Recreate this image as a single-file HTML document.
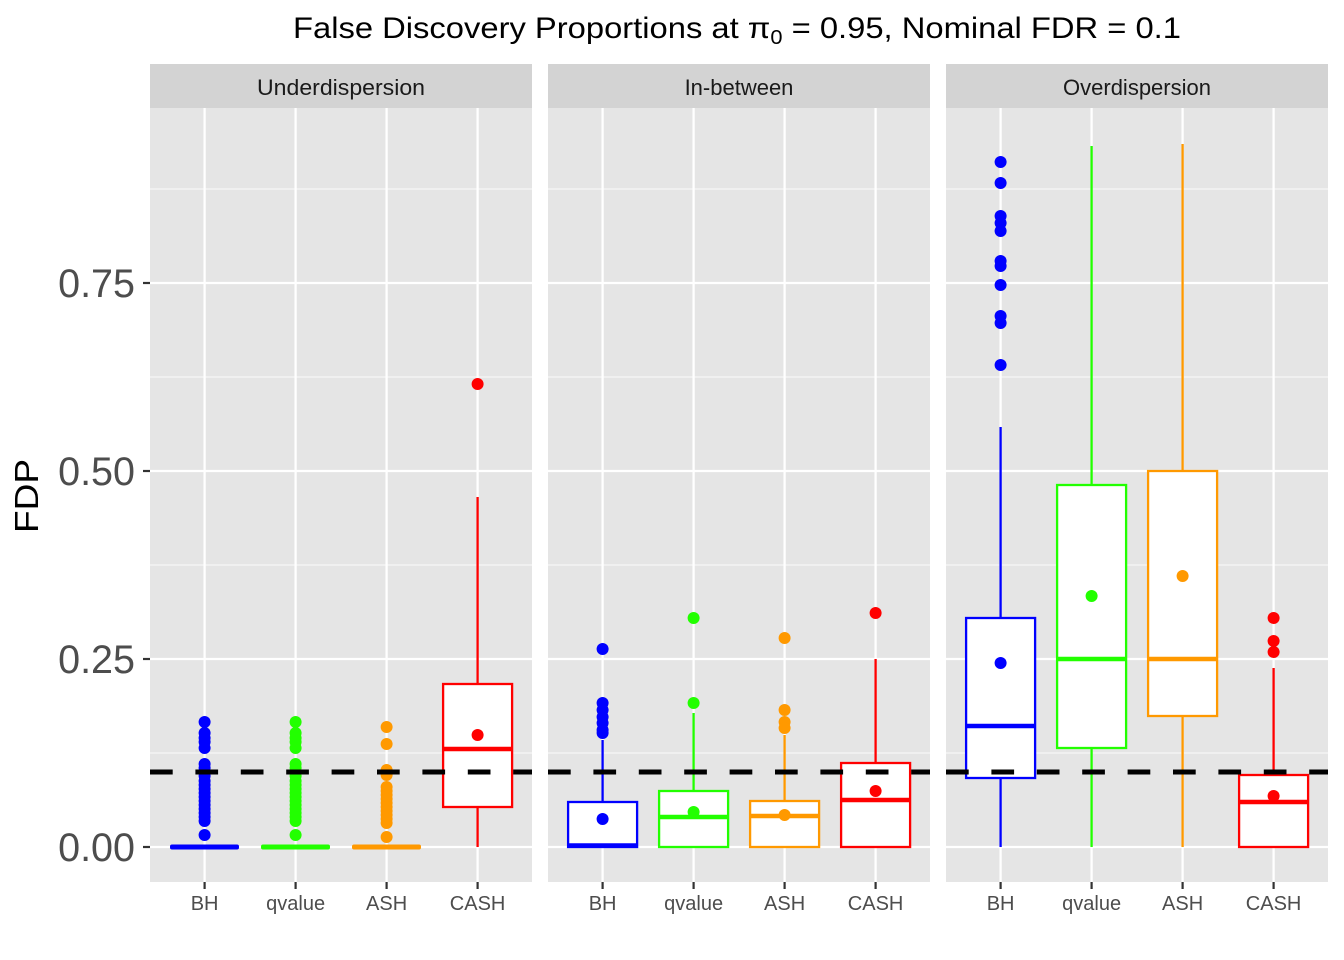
<!DOCTYPE html>
<html>
<head>
<meta charset="utf-8">
<style>
  html,body{margin:0;padding:0;background:#fff;}
  svg{display:block;}
  text{font-family:"Liberation Sans", Arial, sans-serif;}
</style>
</head>
<body>
<svg width="1344" height="960" viewBox="0 0 1344 960" xmlns="http://www.w3.org/2000/svg">
  <rect x="0" y="0" width="1344" height="960" fill="#ffffff"/>

  <!-- Title -->
  <text x="293" y="38" font-size="30" fill="#000" textLength="888" lengthAdjust="spacingAndGlyphs">False Discovery Proportions at π<tspan font-size="20" dy="6">0</tspan><tspan dy="-6"> = 0.95, Nominal FDR = 0.1</tspan></text>

  <!-- Strips -->
  <rect x="150" y="64" width="382" height="44" fill="#D3D3D3"/>
  <rect x="548" y="64" width="382" height="44" fill="#D3D3D3"/>
  <rect x="946" y="64" width="382" height="44" fill="#D3D3D3"/>
  <text x="341" y="95" font-size="22" fill="#1A1A1A" text-anchor="middle" textLength="168" lengthAdjust="spacingAndGlyphs">Underdispersion</text>
  <text x="739" y="95" font-size="22" fill="#1A1A1A" text-anchor="middle">In-between</text>
  <text x="1137" y="95" font-size="22" fill="#1A1A1A" text-anchor="middle">Overdispersion</text>

  <!-- Panels background -->
  <rect x="150" y="108" width="382" height="774" fill="#E5E5E5"/>
  <rect x="548" y="108" width="382" height="774" fill="#E5E5E5"/>
  <rect x="946" y="108" width="382" height="774" fill="#E5E5E5"/>

  <!-- Grid lines -->
  <g stroke="#F7F7F7" stroke-width="1.2">
    <line x1="150" x2="532" y1="189" y2="189"/><line x1="150" x2="532" y1="377" y2="377"/><line x1="150" x2="532" y1="565" y2="565"/><line x1="150" x2="532" y1="753" y2="753"/>
    <line x1="548" x2="930" y1="189" y2="189"/><line x1="548" x2="930" y1="377" y2="377"/><line x1="548" x2="930" y1="565" y2="565"/><line x1="548" x2="930" y1="753" y2="753"/>
    <line x1="946" x2="1328" y1="189" y2="189"/><line x1="946" x2="1328" y1="377" y2="377"/><line x1="946" x2="1328" y1="565" y2="565"/><line x1="946" x2="1328" y1="753" y2="753"/>
  </g>
  <g stroke="#FFFFFF" stroke-width="2.3">
    <line x1="150" x2="532" y1="283" y2="283"/><line x1="150" x2="532" y1="471" y2="471"/><line x1="150" x2="532" y1="659" y2="659"/><line x1="150" x2="532" y1="847" y2="847"/>
    <line x1="548" x2="930" y1="283" y2="283"/><line x1="548" x2="930" y1="471" y2="471"/><line x1="548" x2="930" y1="659" y2="659"/><line x1="548" x2="930" y1="847" y2="847"/>
    <line x1="946" x2="1328" y1="283" y2="283"/><line x1="946" x2="1328" y1="471" y2="471"/><line x1="946" x2="1328" y1="659" y2="659"/><line x1="946" x2="1328" y1="847" y2="847"/>
    <line x1="204.6" x2="204.6" y1="108" y2="882"/><line x1="295.6" x2="295.6" y1="108" y2="882"/><line x1="386.6" x2="386.6" y1="108" y2="882"/><line x1="477.6" x2="477.6" y1="108" y2="882"/>
    <line x1="602.6" x2="602.6" y1="108" y2="882"/><line x1="693.6" x2="693.6" y1="108" y2="882"/><line x1="784.6" x2="784.6" y1="108" y2="882"/><line x1="875.6" x2="875.6" y1="108" y2="882"/>
    <line x1="1000.6" x2="1000.6" y1="108" y2="882"/><line x1="1091.6" x2="1091.6" y1="108" y2="882"/><line x1="1182.6" x2="1182.6" y1="108" y2="882"/><line x1="1273.6" x2="1273.6" y1="108" y2="882"/>
  </g>

  <!-- ===== Panel 1: Underdispersion ===== -->
  <!-- BH -->
  <g fill="#0000FF">
    <rect x="170" y="844.5" width="69" height="5" rx="2"/>
    <circle cx="204.6" cy="722" r="6"/><circle cx="204.6" cy="733" r="6"/><circle cx="204.6" cy="738" r="6"/><circle cx="204.6" cy="742" r="6"/><circle cx="204.6" cy="748" r="6"/>
    <circle cx="204.6" cy="764" r="6"/><circle cx="204.6" cy="768" r="6"/><circle cx="204.6" cy="772" r="6"/><circle cx="204.6" cy="776" r="6"/><circle cx="204.6" cy="781" r="6"/>
    <circle cx="204.6" cy="785" r="6"/><circle cx="204.6" cy="789" r="6"/><circle cx="204.6" cy="793" r="6"/><circle cx="204.6" cy="797" r="6"/><circle cx="204.6" cy="801" r="6"/>
    <circle cx="204.6" cy="805" r="6"/><circle cx="204.6" cy="809" r="6"/><circle cx="204.6" cy="813" r="6"/><circle cx="204.6" cy="817" r="6"/><circle cx="204.6" cy="821" r="6"/>
    <circle cx="204.6" cy="835" r="6"/>
  </g>
  <!-- qvalue -->
  <g fill="#22FF00">
    <rect x="261" y="844.5" width="69" height="5" rx="2"/>
    <circle cx="295.6" cy="722" r="6"/><circle cx="295.6" cy="733" r="6"/><circle cx="295.6" cy="738" r="6"/><circle cx="295.6" cy="742" r="6"/><circle cx="295.6" cy="748" r="6"/>
    <circle cx="295.6" cy="764" r="6"/><circle cx="295.6" cy="768" r="6"/><circle cx="295.6" cy="772" r="6"/><circle cx="295.6" cy="776" r="6"/><circle cx="295.6" cy="781" r="6"/>
    <circle cx="295.6" cy="785" r="6"/><circle cx="295.6" cy="789" r="6"/><circle cx="295.6" cy="793" r="6"/><circle cx="295.6" cy="797" r="6"/><circle cx="295.6" cy="801" r="6"/>
    <circle cx="295.6" cy="805" r="6"/><circle cx="295.6" cy="809" r="6"/><circle cx="295.6" cy="813" r="6"/><circle cx="295.6" cy="817" r="6"/><circle cx="295.6" cy="821" r="6"/>
    <circle cx="295.6" cy="835" r="6"/>
  </g>
  <!-- ASH -->
  <g fill="#FF9900">
    <rect x="352" y="844.5" width="69" height="5" rx="2"/>
    <circle cx="386.6" cy="727" r="6"/><circle cx="386.6" cy="744" r="6"/><circle cx="386.6" cy="770" r="6"/><circle cx="386.6" cy="775" r="6"/>
    <circle cx="386.6" cy="787" r="6"/><circle cx="386.6" cy="791" r="6"/><circle cx="386.6" cy="795" r="6"/><circle cx="386.6" cy="799" r="6"/><circle cx="386.6" cy="803" r="6"/>
    <circle cx="386.6" cy="807" r="6"/><circle cx="386.6" cy="811" r="6"/><circle cx="386.6" cy="815" r="6"/><circle cx="386.6" cy="819" r="6"/><circle cx="386.6" cy="823" r="6"/>
    <circle cx="386.6" cy="837" r="6"/>
  </g>
  <!-- CASH -->
  <g stroke="#FF0000" stroke-width="2.3">
    <line x1="477.6" x2="477.6" y1="497" y2="684"/>
    <line x1="477.6" x2="477.6" y1="807" y2="847"/>
    <rect x="443.1" y="684" width="69" height="123" fill="#FFFFFF"/>
    <line x1="443.1" x2="512.1" y1="749" y2="749" stroke-width="4.6"/>
  </g>
  <g fill="#FF0000">
    <circle cx="477.6" cy="384" r="6"/>
    <circle cx="477.6" cy="735" r="6"/>
  </g>

  <!-- ===== Panel 2: In-between ===== -->
  <!-- BH -->
  <g stroke="#0000FF" stroke-width="2.3">
    <line x1="602.6" x2="602.6" y1="740" y2="802"/>
    <rect x="568.1" y="802" width="69" height="45" fill="#FFFFFF"/>
    <line x1="568.1" x2="637.1" y1="845.5" y2="845.5" stroke-width="4.6"/>
  </g>
  <g fill="#0000FF">
    <circle cx="602.6" cy="649" r="6"/><circle cx="602.6" cy="703" r="6"/><circle cx="602.6" cy="710" r="6"/><circle cx="602.6" cy="717" r="6"/>
    <circle cx="602.6" cy="723" r="6"/><circle cx="602.6" cy="730" r="6"/><circle cx="602.6" cy="733" r="6"/>
    <circle cx="602.6" cy="819" r="6"/>
  </g>
  <!-- qvalue -->
  <g stroke="#22FF00" stroke-width="2.3">
    <line x1="693.6" x2="693.6" y1="713" y2="791"/>
    <rect x="659.1" y="791" width="69" height="56" fill="#FFFFFF"/>
    <line x1="659.1" x2="728.1" y1="817" y2="817" stroke-width="4.6"/>
  </g>
  <g fill="#22FF00">
    <circle cx="693.6" cy="618" r="6"/><circle cx="693.6" cy="703" r="6"/>
    <circle cx="693.6" cy="812" r="6"/>
  </g>
  <!-- ASH -->
  <g stroke="#FF9900" stroke-width="2.3">
    <line x1="784.6" x2="784.6" y1="735" y2="801"/>
    <rect x="750.1" y="801" width="69" height="46" fill="#FFFFFF"/>
    <line x1="750.1" x2="819.1" y1="816" y2="816" stroke-width="4.6"/>
  </g>
  <g fill="#FF9900">
    <circle cx="784.6" cy="638" r="6"/><circle cx="784.6" cy="710" r="6"/><circle cx="784.6" cy="722" r="6"/><circle cx="784.6" cy="728" r="6"/>
    <circle cx="784.6" cy="815" r="6"/>
  </g>
  <!-- CASH -->
  <g stroke="#FF0000" stroke-width="2.3">
    <line x1="875.6" x2="875.6" y1="659" y2="763"/>
    <rect x="841.1" y="763" width="69" height="84" fill="#FFFFFF"/>
    <line x1="841.1" x2="910.1" y1="800" y2="800" stroke-width="4.6"/>
  </g>
  <g fill="#FF0000">
    <circle cx="875.6" cy="613" r="6"/>
    <circle cx="875.6" cy="791" r="6"/>
  </g>

  <!-- ===== Panel 3: Overdispersion ===== -->
  <!-- BH -->
  <g stroke="#0000FF" stroke-width="2.3">
    <line x1="1000.6" x2="1000.6" y1="427" y2="618"/>
    <line x1="1000.6" x2="1000.6" y1="778" y2="847"/>
    <rect x="966.1" y="618" width="69" height="160" fill="#FFFFFF"/>
    <line x1="966.1" x2="1035.1" y1="726" y2="726" stroke-width="4.6"/>
  </g>
  <g fill="#0000FF">
    <circle cx="1000.6" cy="162" r="6"/><circle cx="1000.6" cy="183" r="6"/><circle cx="1000.6" cy="216" r="6"/><circle cx="1000.6" cy="223" r="6"/>
    <circle cx="1000.6" cy="231" r="6"/><circle cx="1000.6" cy="261" r="6"/><circle cx="1000.6" cy="266" r="6"/><circle cx="1000.6" cy="285" r="6"/>
    <circle cx="1000.6" cy="316" r="6"/><circle cx="1000.6" cy="323" r="6"/><circle cx="1000.6" cy="365" r="6"/>
    <circle cx="1000.6" cy="663" r="6"/>
  </g>
  <!-- qvalue -->
  <g stroke="#22FF00" stroke-width="2.3">
    <line x1="1091.6" x2="1091.6" y1="146" y2="485"/>
    <line x1="1091.6" x2="1091.6" y1="748" y2="847"/>
    <rect x="1057.1" y="485" width="69" height="263" fill="#FFFFFF"/>
    <line x1="1057.1" x2="1126.1" y1="659" y2="659" stroke-width="4.6"/>
  </g>
  <g fill="#22FF00">
    <circle cx="1091.6" cy="596" r="6"/>
  </g>
  <!-- ASH -->
  <g stroke="#FF9900" stroke-width="2.3">
    <line x1="1182.6" x2="1182.6" y1="144" y2="471"/>
    <line x1="1182.6" x2="1182.6" y1="716" y2="847"/>
    <rect x="1148.1" y="471" width="69" height="245" fill="#FFFFFF"/>
    <line x1="1148.1" x2="1217.1" y1="659" y2="659" stroke-width="4.6"/>
  </g>
  <g fill="#FF9900">
    <circle cx="1182.6" cy="576" r="6"/>
  </g>
  <!-- CASH -->
  <g stroke="#FF0000" stroke-width="2.3">
    <line x1="1273.6" x2="1273.6" y1="668" y2="775"/>
    <rect x="1239.1" y="775" width="69" height="72" fill="#FFFFFF"/>
    <line x1="1239.1" x2="1308.1" y1="802" y2="802" stroke-width="4.6"/>
  </g>
  <g fill="#FF0000">
    <circle cx="1273.6" cy="618" r="6"/><circle cx="1273.6" cy="641" r="6"/><circle cx="1273.6" cy="652" r="6"/>
    <circle cx="1273.6" cy="796" r="6"/>
  </g>

  <!-- Dashed reference line -->
  <g stroke="#000000" stroke-width="5" stroke-dasharray="22.7 22.7">
    <line x1="150" x2="532" y1="772" y2="772"/>
    <line x1="548" x2="930" y1="772" y2="772"/>
    <line x1="946" x2="1328" y1="772" y2="772"/>
  </g>

  <!-- Axis ticks -->
  <g stroke="#333333" stroke-width="2.2">
    <line x1="143" x2="150" y1="847" y2="847"/><line x1="143" x2="150" y1="659" y2="659"/><line x1="143" x2="150" y1="471" y2="471"/><line x1="143" x2="150" y1="283" y2="283"/>
    <line x1="204.6" x2="204.6" y1="882" y2="889"/><line x1="295.6" x2="295.6" y1="882" y2="889"/><line x1="386.6" x2="386.6" y1="882" y2="889"/><line x1="477.6" x2="477.6" y1="882" y2="889"/>
    <line x1="602.6" x2="602.6" y1="882" y2="889"/><line x1="693.6" x2="693.6" y1="882" y2="889"/><line x1="784.6" x2="784.6" y1="882" y2="889"/><line x1="875.6" x2="875.6" y1="882" y2="889"/>
    <line x1="1000.6" x2="1000.6" y1="882" y2="889"/><line x1="1091.6" x2="1091.6" y1="882" y2="889"/><line x1="1182.6" x2="1182.6" y1="882" y2="889"/><line x1="1273.6" x2="1273.6" y1="882" y2="889"/>
  </g>

  <!-- Y axis labels -->
  <g font-size="39.5" fill="#4D4D4D" text-anchor="end">
    <text x="135" y="861">0.00</text>
    <text x="135" y="673">0.25</text>
    <text x="135" y="485">0.50</text>
    <text x="135" y="297">0.75</text>
  </g>

  <!-- X axis labels -->
  <g font-size="20" fill="#4D4D4D" text-anchor="middle">
    <text x="204.6" y="910">BH</text><text x="295.6" y="910">qvalue</text><text x="386.6" y="910">ASH</text><text x="477.6" y="910">CASH</text>
    <text x="602.6" y="910">BH</text><text x="693.6" y="910">qvalue</text><text x="784.6" y="910">ASH</text><text x="875.6" y="910">CASH</text>
    <text x="1000.6" y="910">BH</text><text x="1091.6" y="910">qvalue</text><text x="1182.6" y="910">ASH</text><text x="1273.6" y="910">CASH</text>
  </g>

  <!-- Y axis title -->
  <text transform="translate(38,496) rotate(-90)" font-size="33" fill="#000" text-anchor="middle" textLength="74" lengthAdjust="spacingAndGlyphs">FDP</text>
</svg>
</body>
</html>
